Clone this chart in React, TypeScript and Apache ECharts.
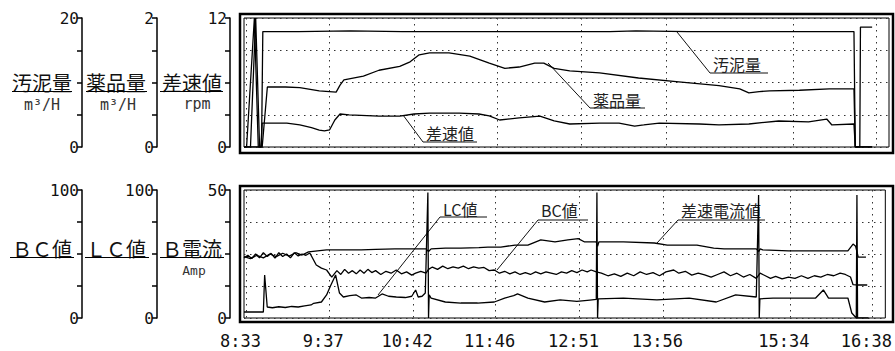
import React, { useEffect, useRef } from 'react';
import * as echarts from 'echarts';

// time axis: minutes after 8:33
const timeLabels = ['8:33', '9:37', '10:42', '11:46', '12:51', '13:56', '15:34', '16:38'];
const timeTicks = [0, 64, 129, 193, 258, 323, 421, 485];

// ---- upper panel ----
// 汚泥量 (m3/H, 0-20)
const sludgeT = [-2, 0, 6, 9, 11.5, 12.5, 40, 80, 120, 160, 200, 240, 280, 300, 340, 380, 420, 460, 468, 469, 472.5, 473, 482];
const sludgeV = [0, 0, 20, 0, 0, 17.9, 17.9, 18, 17.9, 17.9, 17.9, 17.9, 17.9, 18, 17.9, 17.9, 17.9, 17.9, 17.9, 0, 0, 18.6, 18.6];
// 薬品量 (m3/H, 0-2)
const chemT = [-2, 12, 16, 30, 41, 56, 69, 72, 75, 90, 102, 118, 126, 133, 141, 156, 172, 187, 199, 210, 222, 229, 237, 249, 272, 302, 333, 364, 380, 387, 395, 403, 426, 449, 468, 469, 482];
const chemV = [0, 0, 0.93, 0.93, 0.92, 0.87, 0.85, 0.96, 1.04, 1.1, 1.19, 1.25, 1.32, 1.43, 1.46, 1.46, 1.41, 1.3, 1.22, 1.24, 1.3, 1.3, 1.22, 1.18, 1.15, 1.07, 1.01, 0.95, 0.9, 0.84, 0.86, 0.87, 0.88, 0.9, 0.9, 0, 0];
// 差速値 (rpm, 0-12)
const diffT = [-2, 3, 7, 10, 11, 12, 31, 41, 50, 56, 60, 64, 68, 72, 79, 102, 118, 129, 141, 164, 179, 187, 195, 210, 226, 237, 249, 272, 287, 299, 306, 318, 349, 364, 387, 410, 433, 447, 451, 468, 469, 482];
const diffV = [0, 0, 12, 0, 0, 2.23, 2.23, 2.05, 1.8, 1.58, 1.49, 1.6, 2.51, 3.07, 2.98, 2.88, 2.88, 3.07, 3.16, 3.16, 3.07, 2.9, 2.51, 2.7, 2.88, 2.42, 2.14, 2.23, 2.23, 1.95, 2.05, 2.23, 2.14, 2.05, 2.14, 2.42, 2.33, 2.6, 2.05, 2.14, 0, 0];

// ---- lower panel ----
// 差速電流値 / B電流 (Amp, 0-50)
const currT = [-2, 3, 8, 13, 18, 23, 28, 33, 38, 43, 48, 55, 62, 75, 89, 100, 115, 130, 139, 141, 143, 154, 166, 180, 187, 197, 208, 218, 228, 239, 249, 257, 262, 271, 272, 273, 292, 316, 326, 349, 362, 370, 395, 397, 398, 400, 420, 440, 466, 470, 472, 474, 480];
const currV = [24, 23.2, 24.5, 23.5, 25, 24, 25.3, 24.2, 25.5, 24.6, 25.8, 26.2, 26.6, 26.6, 26.6, 26.8, 27, 27, 27, 26, 27, 27.3, 27.3, 27.5, 27.7, 27.7, 28.5, 28.5, 30.5, 29.7, 30.5, 31, 29.7, 29.7, 28, 29.7, 29.7, 29.3, 28.5, 28.5, 27.3, 27, 27, 26, 27, 26.6, 26.2, 26.2, 26.2, 28.9, 28, 23.8, 23.8];
// BC値 (0-100)
const bcT = [-2, 1, 4, 7, 10, 13, 16, 19, 22, 25, 28, 31, 34, 37, 40, 43, 46, 49, 54, 58, 62, 66, 70, 73, 76, 79, 82, 85, 88, 91, 94, 97, 100, 104, 108, 112, 116, 120, 124, 128, 131, 135, 139, 141, 144, 148, 152, 156, 160, 164, 168, 172, 176, 180, 184, 188, 192, 196, 200, 204, 208, 212, 216, 220, 224, 228, 232, 236, 240, 244, 248, 252, 256, 260, 264, 267, 271, 275, 280, 285, 290, 295, 300, 305, 310, 315, 320, 325, 331, 335, 340, 345, 350, 355, 360, 365, 370, 375, 380, 385, 390, 395, 398, 402, 406, 410, 415, 420, 425, 430, 435, 440, 445, 450, 455, 460, 464, 468, 470, 474, 481];
const bcV = [47, 49, 46.5, 50, 47, 51, 48, 50.5, 46.8, 51, 48, 50, 47, 51, 48.5, 50, 49, 50.8, 41.4, 39, 37.5, 32, 37, 34, 38, 35, 37, 34.5, 37.5, 35, 38, 35.5, 37, 34, 36.5, 35, 37.5, 34.5, 36, 33.5, 35, 36.5, 35, 38, 39.8, 38, 40.5, 38.5, 40, 39, 40.5, 38.5, 40, 39, 39.5, 37, 37.5, 35, 36.5, 34.5, 36, 34, 35.5, 34, 36, 34.5, 36, 35, 34, 36, 35, 37, 35.5, 37.5, 36, 37.5, 36, 35, 33, 34.5, 32.5, 35, 33, 36, 34, 35.5, 33, 36, 37.5, 35, 36.5, 33.5, 35, 33.6, 32, 34, 36, 33, 35, 32, 34, 31, 35, 33, 31, 32.5, 30.5, 32, 31, 33, 31, 33, 32, 34, 33, 35, 34, 32, 26, 25.8, 25.8];
// LC値 (0-100)
const lcT = [-2, 13, 14, 16, 20, 25, 30, 35, 40, 45, 50, 52, 58, 62, 65, 69, 72, 75, 80, 85, 89, 95, 100, 105, 110, 116, 123, 128, 131, 133, 136, 138.5, 140.5, 141, 141.5, 143, 154, 166, 179, 192, 200, 207, 210, 218, 231, 243, 256, 266, 271, 271.5, 272, 272.5, 292, 318, 343, 364, 379, 395, 396.8, 397.3, 397.8, 408, 420, 441, 447, 451, 466, 469, 472.5, 473, 473.5, 482];
const lcV = [4.7, 4.7, 33.6, 8.6, 8, 8.8, 8.2, 9, 8.6, 9.4, 10.2, 11.5, 12.5, 18, 25, 33.6, 19.5, 16.4, 17.5, 18, 15.6, 16, 15.6, 18.8, 17, 16.4, 16, 17, 21.9, 16.4, 17, 19.5, 98, 0, 18, 15.6, 12.5, 11.7, 11.7, 12.5, 15.6, 17.5, 18.8, 15.6, 12.5, 14.1, 13, 14, 14.5, 98, 0, 15, 15.6, 14.1, 15.6, 12.5, 18, 16.4, 96, 0, 15, 15.6, 15.6, 15.6, 21.9, 15.6, 15.6, 3.9, 0, 96, 0, 0];

const pair = (t: number[], v: number[]) => t.map((x, i) => [x, v[i]]);

const INK = '#111';
const MONO = '"DejaVu Sans Mono", monospace';
const JP = '"Noto Sans CJK JP", sans-serif';

const yAx = (grid: number, max: number, interval: number, offset: number, split: boolean) => ({
  type: 'value',
  gridIndex: grid,
  min: 0,
  max,
  interval,
  position: 'left',
  offset,
  axisLine: { show: true, onZero: false, lineStyle: { color: '#000', width: 1.5 } },
  axisTick: { show: true, length: 5, lineStyle: { color: '#000', width: 1.5 } },
  axisLabel: {
    margin: 3,
    formatter: (v: number) => (v === 0 || v === max ? String(v) : ''),
    fontFamily: MONO,
    fontSize: 16,
    color: INK,
  },
  splitLine: { show: split, lineStyle: { color: '#333', type: [1.5, 4.5], width: 1 } },
});

const xAx = (grid: number, showLabels: boolean) => ({
  type: 'value',
  gridIndex: grid,
  min: -2,
  max: 495,
  axisLine: { show: false },
  axisTick: { show: false, customValues: timeTicks },
  axisLabel: {
    show: showLabels,
    customValues: timeTicks,
    formatter: (v: number) => {
      const i = timeTicks.indexOf(v);
      return i >= 0 ? timeLabels[i] : '';
    },
    margin: 14,
    fontFamily: MONO,
    fontSize: 17,
    color: INK,
    padding: [0, 12, 0, 0],
  },
  splitLine: { show: true, lineStyle: { color: '#333', type: [1.5, 4.5], width: 1 } },
});

const lineSeries = (name: string, data: number[][], xi: number, yi: number) => ({
  name,
  type: 'line',
  xAxisIndex: xi,
  yAxisIndex: yi,
  data,
  showSymbol: false,
  symbol: 'none',
  silent: true,
  lineStyle: { color: '#000', width: 1.3 },
});

const txt = (text: string, x: number, y: number, size: number, family: string, fill = INK, align = 'center') => ({
  type: 'text',
  x,
  y,
  silent: true,
  style: { text, fill, font: `${size}px ${family}`, align, verticalAlign: 'middle' },
});
const hline = (x1: number, x2: number, y: number, w = 1) => ({
  type: 'line',
  silent: true,
  shape: { x1, y1: y, x2, y2: y },
  style: { stroke: '#000', lineWidth: w },
});
const leader = (pts: number[][]) => ({
  type: 'polyline',
  silent: true,
  shape: { points: pts },
  style: { stroke: '#111', lineWidth: 1, fill: null },
});

export default function App() {
  const ref = useRef<HTMLDivElement>(null);
  useEffect(() => {
    if (!ref.current) return;
    const chart = echarts.init(ref.current, undefined, { renderer: 'svg' });
    chart.setOption({
      animation: false,
      backgroundColor: '#fff',
      grid: [
        { left: 244, top: 18, width: 645, height: 129, show: true, borderColor: '#000', borderWidth: 1, containLabel: false },
        { left: 244, top: 190, width: 645, height: 128, show: true, borderColor: '#000', borderWidth: 1, containLabel: false },
      ],
      xAxis: [xAx(0, false), xAx(1, true)],
      yAxis: [
        yAx(0, 20, 5, 162, false),
        yAx(0, 2, 0.5, 87, false),
        yAx(0, 12, 3, 14, true),
        yAx(1, 100, 25, 162, false),
        yAx(1, 100, 25, 87, false),
        yAx(1, 50, 12.5, 14, true),
      ],
      series: [
        lineSeries('汚泥量', pair(sludgeT, sludgeV), 0, 0),
        lineSeries('薬品量', pair(chemT, chemV), 0, 1),
        lineSeries('差速値', pair(diffT, diffV), 0, 2),
        lineSeries('BC値', pair(bcT, bcV), 1, 3),
        lineSeries('LC値', pair(lcT, lcV), 1, 4),
        lineSeries('差速電流値', pair(currT, currV), 1, 5),
      ],
      graphic: [
        // outer frames
        { type: 'rect', silent: true, shape: { x: 240, y: 14, width: 653, height: 139 }, style: { fill: null, stroke: '#000', lineWidth: 2.5 } },
        { type: 'rect', silent: true, shape: { x: 240, y: 186, width: 653, height: 136 }, style: { fill: null, stroke: '#000', lineWidth: 2.5 } },
        // upper axis names
        txt('汚泥量', 42, 82, 20, JP),
        hline(12, 72, 91.5),
        txt('m³/H', 42, 105, 15, MONO, '#333'),
        txt('薬品量', 116, 82, 20, JP),
        hline(86, 147, 91.5),
        txt('m³/H', 118, 105, 15, MONO, '#333'),
        txt('差速値', 192, 82, 20, JP),
        hline(160, 223, 91.5),
        txt('rpm', 197, 104, 15, MONO, '#333'),
        // lower axis names
        txt('ＢＣ値', 42, 248.5, 20, JP),
        hline(10, 74, 257.5),
        txt('ＬＣ値', 116, 248.5, 20, JP),
        hline(85, 149, 257.5),
        txt('Ｂ電流', 192, 248.5, 20, JP),
        hline(160, 224, 257.5),
        txt('Amp', 194, 270, 13, MONO, '#333'),
        // in-plot annotations (upper)
        leader([[677, 32], [710, 73], [768, 73]]),
        txt('汚泥量', 713, 64, 16, JP, '#222', 'left'),
        leader([[548, 63], [590, 108], [645, 108]]),
        txt('薬品量', 593, 100, 16, JP, '#222', 'left'),
        leader([[403, 115], [423, 142], [477, 142]]),
        txt('差速値', 426, 133, 16, JP, '#222', 'left'),
        // in-plot annotations (lower)
        leader([[378, 295], [440, 217], [487, 217]]),
        txt('LC値', 443, 209, 16, JP, '#222', 'left'),
        leader([[497, 270], [538, 220], [588, 220]]),
        txt('BC値', 541, 210, 16, JP, '#222', 'left'),
        leader([[657, 243], [678, 220], [765, 220]]),
        txt('差速電流値', 681, 210, 16, JP, '#222', 'left'),
      ],
    });
    return () => chart.dispose();
  }, []);
  return (
    <div
      ref={ref}
      style={{ position: 'fixed', left: 0, top: 0, width: 895, height: 351, background: '#fff' }}
    />
  );
}
